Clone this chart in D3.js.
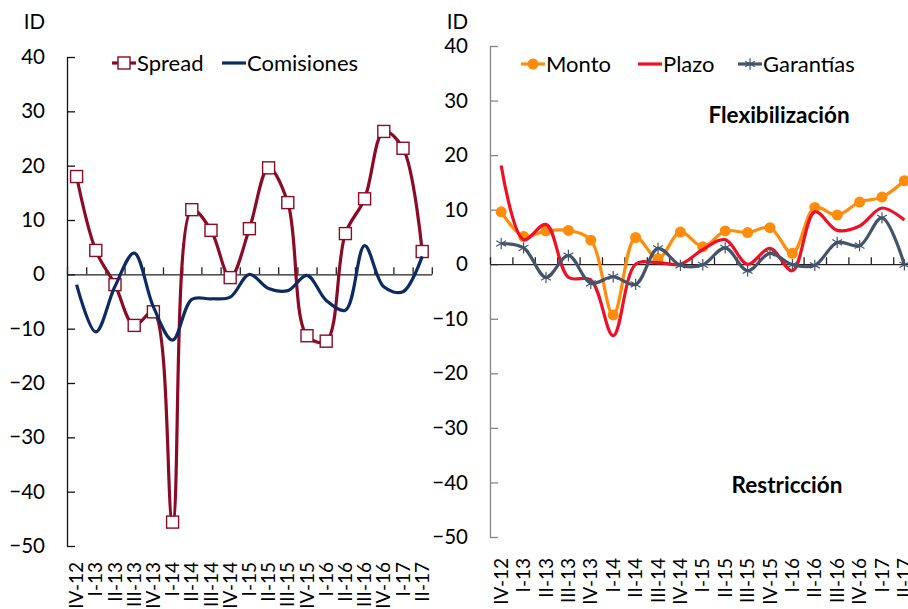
<!DOCTYPE html>
<html lang="es">
<head>
<meta charset="utf-8">
<title>Spread, comisiones y condiciones de crédito</title>
<script src="https://d3js.org/d3.v7.min.js"></script>
<style>
body {
  margin: 0;
  background: #fff;
}
svg text {
  font-family: Lato, "Open Sans", sans-serif;
  fill: #000;
}
.tick text {
  font-size: 20.5px;
}
.xlab {
  font-size: 19px;
}
.legend text {
  font-size: 22px;
}
.note {
  font-size: 22.5px;
  font-weight: bold;
}
</style>
</head>
<body>
<svg width="908" height="609"></svg>
<script>
// trimestres
var categories = ["IV-12", "I-13", "II-13", "III-13", "IV-13", "I-14", "II-14", "III-14", "IV-14",
                  "I-15", "II-15", "III-15", "IV-15", "I-16", "II-16", "III-16", "IV-16", "I-17", "II-17"];
var yTicks = [40, 30, 20, 10, 0, -10, -20, -30, -40, -50];

// panel izquierdo
var spread     = [18, 4.4, -1.9, -9.4, -6.9, -45.6, 11.9, 8.1, -0.6, 8.4, 19.6, 13.2, -11.3, -12.3, 7.5, 13.9, 26.3, 23.2, 4.2];
var comisiones = [-1.9, -10.6, -2.2, 3.9, -6, -12.1, -4.6, -4.5, -4.2, 0, -2.6, -3, -0.2, -4.8, -6.6, 5.3, -2.3, -3.2, 3.3];

// panel derecho
var monto     = [9.6, 5.1, 6.1, 6.2, 4.4, -9.3, 4.9, 1.0, 5.9, 3.2, 6.1, 5.8, 6.7, 2.0, 10.4, 9.0, 11.4, 12.3, 15.3];
var plazo     = [18.1, 4.5, 7.3, -2.4, -2.9, -13.1, 0, 0.3, 0, 2.7, 4.5, 0, 2.9, -1.2, 9.6, 6.2, 7.0, 10.3, 8.1];
var garantias = [3.8, 3.0, -2.4, 1.6, -3.5, -2.3, -3.7, 2.9, -0.2, -0.1, 3.0, -1.2, 2.0, -0.1, -0.2, 4.0, 3.4, 8.5, -0.1];

var svg = d3.select("svg");

function panel(opt) {
  var g = svg.append("g");
  var x = d3.scaleBand().domain(categories).range([opt.x0, opt.x0 + opt.step * categories.length]);
  var xEdge = d3.scaleLinear().domain([0, categories.length]).range(x.range());
  var y = d3.scaleLinear().domain([-50, 40]).range([opt.yBottom, opt.yTop]);
  var cx = function(d, i) { return x(categories[i]) + x.bandwidth() / 2; };

  // eje y
  var ay = g.append("g")
    .attr("transform", "translate(" + opt.x0 + ",0)")
    .call(d3.axisLeft(y).tickValues(yTicks).tickSizeInner(-8).tickSizeOuter(0).tickPadding(22));
  ay.select(".domain").attr("stroke", opt.yAxisColor).attr("stroke-width", 1.3);
  ay.selectAll(".tick line").attr("stroke", opt.yAxisColor).attr("stroke-width", 1.3);
  ay.selectAll(".tick text").attr("fill", "#000");

  g.append("text")
    .attr("x", opt.x0 - 22)
    .attr("y", 22)
    .attr("dy", "0.35em")
    .attr("text-anchor", "end")
    .style("font-size", "20.5px")
    .text("ID");

  // eje x en cero
  var ax = g.append("g")
    .attr("transform", "translate(0," + y(0) + ")")
    .call(d3.axisBottom(xEdge).tickValues(d3.range(0, categories.length + 1)).tickSizeInner(-7).tickSizeOuter(0).tickFormat(""));
  ax.select(".domain").attr("stroke", "#222").attr("stroke-width", 1.3);
  ax.selectAll(".tick line").attr("stroke", "#222").attr("stroke-width", 1.3);

  g.selectAll(".xlab")
    .data(categories)
    .enter().append("text")
    .attr("class", "xlab")
    .attr("transform", function(d) { return "translate(" + (x(d) + x.bandwidth() / 2) + "," + opt.labelY + ") rotate(-90)"; })
    .attr("dy", "0.35em")
    .attr("text-anchor", "end")
    .text(function(d) { return d; });

  opt.series.forEach(function(s) {
    var line = d3.line()
      .x(cx)
      .y(function(d) { return y(d); })
      .curve(d3.curveCatmullRom.alpha(0.5));
    g.append("path")
      .datum(s.values)
      .attr("fill", "none")
      .attr("stroke", s.color)
      .attr("stroke-width", 3.2)
      .attr("d", line);

    if (s.marker == "square") {
      g.selectAll(null).data(s.values).enter().append("rect")
        .attr("x", function(d, i) { return cx(d, i) - 6; })
        .attr("y", function(d) { return y(d) - 6; })
        .attr("width", 12).attr("height", 12)
        .attr("fill", "#fff").attr("stroke", s.color).attr("stroke-width", 1.4);
    } else if (s.marker == "circle") {
      g.selectAll(null).data(s.values).enter().append("circle")
        .attr("cx", cx)
        .attr("cy", function(d) { return y(d); })
        .attr("r", 5.5)
        .attr("fill", s.color);
    } else if (s.marker == "star") {
      g.selectAll(null).data(s.values).enter().append("path")
        .attr("transform", function(d, i) { return "translate(" + cx(d, i) + "," + y(d) + ")"; })
        .attr("d", d3.symbol(d3.symbolAsterisk, 90))
        .attr("fill", "none").attr("stroke", s.color).attr("stroke-width", 1.2);
    }
  });

  // leyenda
  var lg = g.append("g").attr("class", "legend");
  opt.series.forEach(function(s) {
    var it = lg.append("g").attr("transform", "translate(" + s.lx + "," + opt.legendY + ")");
    it.append("line").attr("x1", 0).attr("x2", 24).attr("stroke", s.color).attr("stroke-width", 3.2);
    if (s.marker == "square") {
      it.append("rect").attr("x", 6).attr("y", -6).attr("width", 12).attr("height", 12)
        .attr("fill", "#fff").attr("stroke", s.color).attr("stroke-width", 1.4);
    } else if (s.marker == "circle") {
      it.append("circle").attr("cx", 12).attr("r", 5.5).attr("fill", s.color);
    } else if (s.marker == "star") {
      it.append("path").attr("transform", "translate(12,0)")
        .attr("d", d3.symbol(d3.symbolAsterisk, 90))
        .attr("fill", "none").attr("stroke", s.color).attr("stroke-width", 1.2);
    }
    it.append("text").attr("x", 25).attr("dy", "0.35em").text(s.name);
  });
  return g;
}

panel({
  x0: 67, step: 19.2, yTop: 57, yBottom: 546, labelY: 562, legendY: 63,
  yAxisColor: "#111",
  series: [
    { name: "Spread", values: spread, color: "#8b0a26", marker: "square", lx: 112 },
    { name: "Comisiones", values: comisiones, color: "#0c2a63", marker: "none", lx: 222 }
  ]
});

var right = panel({
  x0: 490, step: 22.4, yTop: 46, yBottom: 537, labelY: 558, legendY: 64,
  yAxisColor: "#858585",
  series: [
    { name: "Monto", values: monto, color: "#ff8c0a", marker: "circle", lx: 521 },
    { name: "Plazo", values: plazo, color: "#ee1125", marker: "none", lx: 638 },
    { name: "Garantías", values: garantias, color: "#44546a", marker: "star", lx: 738 }
  ]
});

right.append("text").attr("class", "note")
  .attr("x", 779).attr("y", 115).attr("dy", "0.35em").attr("text-anchor", "middle")
  .text("Flexibilización");
right.append("text").attr("class", "note")
  .attr("x", 787).attr("y", 485).attr("dy", "0.35em").attr("text-anchor", "middle")
  .text("Restricción");
</script>
</body>
</html>
